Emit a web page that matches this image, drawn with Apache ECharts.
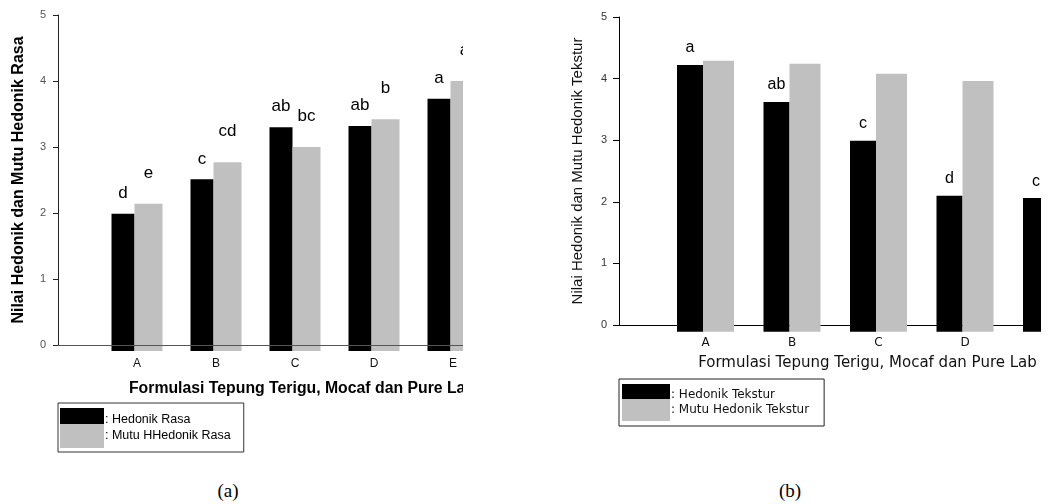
<!DOCTYPE html>
<html>
<head>
<meta charset="utf-8">
<script src="https://cdn.jsdelivr.net/npm/echarts@6/dist/echarts.min.js"></script>
<style>
html,body{margin:0;padding:0;background:#fff;width:1050px;height:504px;overflow:hidden;}
.panel{position:absolute;top:0;height:462px;overflow:hidden;}
#pa{left:0;width:463px;}
#pb{left:560px;width:481px;}
.chart{position:absolute;left:0;top:0;width:700px;height:462px;}
.cap{position:absolute;top:480px;font-family:'Liberation Serif',serif;font-size:19px;line-height:22px;color:#000;transform:translateX(-50%);}
</style>
</head>
<body>
<div class="panel" id="pa"><div class="chart" id="ca"></div></div>
<div class="panel" id="pb"><div class="chart" id="cb"></div></div>
<div class="cap" style="left:228px">(a)</div>
<div class="cap" style="left:790px">(b)</div>
<script>
// ---- data ----
const categories = ['A', 'B', 'C', 'D', 'E'];
const hedonikRasa = [1.99, 2.51, 3.30, 3.32, 3.73];
const mutuHedonikRasa = [2.14, 2.77, 3.00, 3.42, 4.00];
const hedonikRasaLetters = ['d', 'c', 'ab', 'ab', 'a'];
const mutuHedonikRasaLetters = ['e', 'cd', 'bc', 'b', 'a'];
const hedonikTekstur = [4.22, 3.62, 2.99, 2.10, 2.06];
const mutuHedonikTekstur = [4.29, 4.24, 4.08, 3.96, 3.90];
const hedonikTeksturLetters = ['a', 'ab', 'c', 'd', 'c'];
const yMin = 0, yMax = 5, yStep = 1;
const xTitle = 'Formulasi Tepung Terigu, Mocaf dan Pure Lab';
const yTitleA = 'Nilai Hedonik dan Mutu Hedonik Rasa';
const yTitleB = 'Nilai Hedonik dan Mutu Hedonik Tekstur';
const seriesNamesA = ['Hedonik Rasa', 'Mutu HHedonik Rasa'];
const seriesNamesB = ['Hedonik Tekstur', 'Mutu Hedonik Tekstur'];

// axis with one empty slot before and after the categories
const xData = [''].concat(categories, [' ']);
function pad(arr) { return ['-'].concat(arr, ['-']); }

const BLACK = '#000000', GREY = '#c0c0c0';

// ---- chart (a) ----
const fa = 'Liberation Sans';
const chartA = echarts.init(document.getElementById('ca'), null, {renderer: 'canvas'});
chartA.setOption({
  animation: false,
  grid: {left: 58, top: 15, width: 474, height: 330},
  legend: {
    left: 58, top: 403, orient: 'vertical', icon: 'rect',
    itemWidth: 44, itemHeight: 24, itemGap: -8, selectedMode: false,
    borderColor: '#333', borderWidth: 1, padding: [5, 13, 4, 2],
    formatter: ': {name}',
    textStyle: {fontFamily: fa, fontSize: 12.5, color: '#000', padding: [0, 0, 0, -4]},
    data: seriesNamesA
  },
  xAxis: {
    type: 'category', data: xData, boundaryGap: false, z: 5,
    axisLine: {lineStyle: {color: '#555', width: 1}},
    axisTick: {show: false},
    axisLabel: {fontFamily: fa, fontSize: 12, color: '#111', margin: 13},
    name: xTitle, nameLocation: 'middle', nameGap: 36,
    nameTextStyle: {fontFamily: fa, fontWeight: 'bold', fontSize: 15.8, color: '#000', padding: [0, 0, 0, 14]}
  },
  yAxis: {
    type: 'value', min: yMin, max: yMax, interval: yStep, startValue: -0.09,
    splitLine: {show: false},
    axisLine: {show: true, lineStyle: {color: '#222'}},
    axisTick: {show: true, length: 5, lineStyle: {color: '#222'}},
    axisLabel: {fontFamily: fa, fontSize: 11, color: '#555', margin: 12},
    name: yTitleA, nameLocation: 'middle', nameGap: 31,
    nameTextStyle: {fontFamily: fa, fontWeight: 'bold', fontSize: 16, color: '#000'}
  },
  series: [
    {
      type: 'bar', name: seriesNamesA[0], data: pad(hedonikRasa),
      barWidth: 23, barGap: '0%', clip: false,
      itemStyle: {color: BLACK},
      label: {show: true, position: 'top', distance: 12, fontFamily: fa, fontSize: 17, color: '#000',
        formatter: p => hedonikRasaLetters[p.dataIndex - 1]}
    },
    {
      type: 'bar', name: seriesNamesA[1], data: pad(mutuHedonikRasa),
      barWidth: 28, barGap: '0%', clip: false,
      itemStyle: {color: GREY},
      label: {show: true, position: 'top', distance: 22, fontFamily: fa, fontSize: 17, color: '#000',
        formatter: p => mutuHedonikRasaLetters[p.dataIndex - 1]}
    }
  ]
});

// ---- chart (b) ----
const fb = 'DejaVu Sans';
const chartB = echarts.init(document.getElementById('cb'), null, {renderer: 'canvas'});
chartB.setOption({
  animation: false,
  grid: {left: 59, top: 17, width: 519, height: 308},
  legend: {
    left: 59, top: 379, orient: 'vertical', icon: 'rect',
    itemWidth: 48, itemHeight: 22, itemGap: -7, selectedMode: false,
    borderColor: '#222', borderWidth: 1, padding: [5, 15, 5, 3],
    formatter: ': {name}',
    textStyle: {fontFamily: fb, fontSize: 12, color: '#111', padding: [0, 0, 0, -4]},
    data: seriesNamesB
  },
  xAxis: {
    type: 'category', data: xData, boundaryGap: false,
    axisLine: {lineStyle: {color: '#000', width: 1}},
    axisTick: {show: false},
    axisLabel: {fontFamily: fb, fontSize: 12, color: '#111', margin: 12},
    name: xTitle, nameLocation: 'middle', nameGap: 31,
    nameTextStyle: {fontFamily: fb, fontSize: 15, color: '#111', padding: [0, 22, 0, 0]}
  },
  yAxis: {
    type: 'value', min: yMin, max: yMax, interval: yStep, startValue: -0.11,
    splitLine: {show: false},
    axisLine: {show: true, lineStyle: {color: '#000'}},
    axisTick: {show: true, length: 6, lineStyle: {color: '#000'}},
    axisLabel: {fontFamily: fa, fontSize: 11, color: '#333', margin: 12},
    name: yTitleB, nameLocation: 'middle', nameGap: 34,
    nameTextStyle: {fontFamily: fa, fontSize: 15, color: '#111'}
  },
  series: [
    {
      type: 'bar', name: seriesNamesB[0], data: pad(hedonikTekstur),
      barWidth: 26, barGap: '0%', clip: false,
      itemStyle: {color: BLACK},
      label: {show: true, position: 'top', distance: 9, fontFamily: fa, fontSize: 16, color: '#000',
        formatter: p => hedonikTeksturLetters[p.dataIndex - 1]}
    },
    {
      type: 'bar', name: seriesNamesB[1], data: pad(mutuHedonikTekstur),
      barWidth: 31, barGap: '0%', clip: false,
      itemStyle: {color: GREY}
    }
  ]
});
</script>
</body>
</html>
